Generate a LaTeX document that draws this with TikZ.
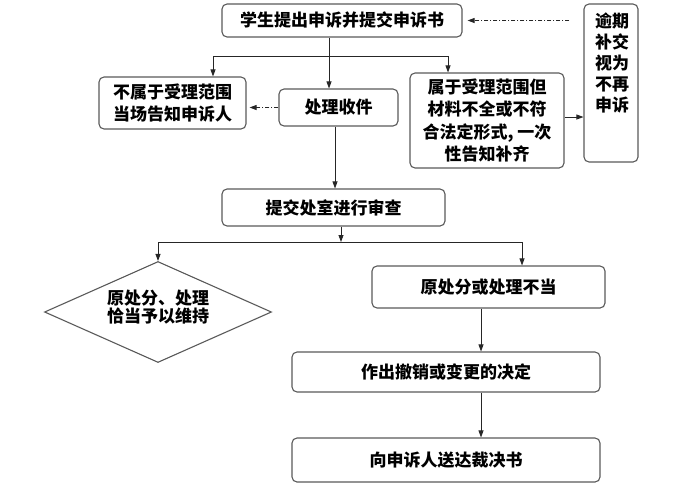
\documentclass[tikz,border=0pt]{standalone}
\usepackage{fontspec}
\setmainfont{Noto Sans CJK SC}
\usetikzlibrary{shapes.geometric,arrows.meta,calc}
\tikzset{
  box/.style={draw=black!65, line width=1.1pt, rounded corners=5pt, inner sep=0pt, align=center, font=\fontsize{17}{22}\selectfont\bfseries},
  txt/.style={inner sep=0pt, align=center, font=\fontsize{17}{22}\selectfont\bfseries},
  conn/.style={draw=black!85, line width=0.8pt},
  arr/.style={conn, -{Triangle[length=7pt,width=5pt]}},
  dotarr/.style={conn, dash pattern=on 4pt off 2pt on 1pt off 2pt, -{Triangle[length=7pt,width=5pt]}},
}
\begin{document}
\begin{tikzpicture}[x=1pt,y=-1pt]
\useasboundingbox (0,0) rectangle (690,488);
% nodes
\node[box, minimum width=240, minimum height=33] (b1) at (342,20.5) {学生提出申诉并提交申诉书};
\node[box, minimum width=54, minimum height=158] (tall) at (611,83) {};
\node[txt, anchor=north, font=\fontsize{17}{21}\selectfont\bfseries] (talltxt) at (612,13) {逾期\\补交\\视为\\不再\\申诉};
\node[box, minimum width=147, minimum height=52] (left) at (172.5,103) {不属于受理范围\\当场告知申诉人};
\node[box, minimum width=119, minimum height=37] (recv) at (338.5,107.5) {处理收件};
\node[box, minimum width=154, minimum height=95, font=\fontsize{17}{22.5}\selectfont\bfseries] (rb) at (487,120.5) {属于受理范围但\\材料不全或不符\\合法定形式, 一次\\性告知补齐};
\node[box, minimum width=223, minimum height=37] (review) at (333.5,207.5) {提交处室进行审查};
\node[draw=black!65, line width=1.1pt, diamond, minimum width=227, minimum height=101, inner sep=0pt] (dia) at (158,312) {};
\node[txt, font=\fontsize{17}{18.5}\selectfont\bfseries] (diatxt) at (158,307) {原处分、处理\\恰当予以维持};
\node[box, minimum width=233, minimum height=42] (b2) at (488.5,287) {原处分或处理不当};
\node[box, minimum width=308, minimum height=40] (dec) at (446,372) {作出撤销或变更的决定};
\node[box, minimum width=308, minimum height=44] (last) at (446,460) {向申诉人送达裁决书};
% helper coordinates
\coordinate (c1) at (329,0);
\coordinate (c2) at (335,0);
\coordinate (c3) at (341,0);
\coordinate (c4) at (481,0);
\coordinate (j1L) at (213,56);
\coordinate (j1R) at (448,56);
\coordinate (j2L) at (158,242);
\coordinate (j2R) at (522,242);
% connectors
\draw[arr] (b1.south -| c1) -- (recv.north -| c1);
\draw[conn] (j1L) -- (j1R);
\draw[arr] (j1L) -- (left.north -| j1L);
\draw[arr] (j1R) -- (rb.north -| j1R);
\draw[dotarr, shorten >=5pt] ($(tall.west |- b1.east)+(-14,0)$) -- (b1.east);
\draw[dotarr, shorten >=3pt] (recv.west) -- (recv.west -| left.east);
\draw[arr] (rb.east |- 0,117) -- (tall.west |- 0,117);
\draw[arr] (recv.south -| c2) -- (review.north -| c2);
\draw[arr] (review.south -| c3) -- (c3 |- j2L);
\draw[conn] (j2L) -- (j2R);
\draw[arr] (j2L) -- (dia.north);
\draw[arr] (j2R) -- (b2.north -| j2R);
\draw[arr] (b2.south -| c4) -- (dec.north -| c4);
\draw[arr] (dec.south -| c4) -- (last.north -| c4);
\end{tikzpicture}
\end{document}
